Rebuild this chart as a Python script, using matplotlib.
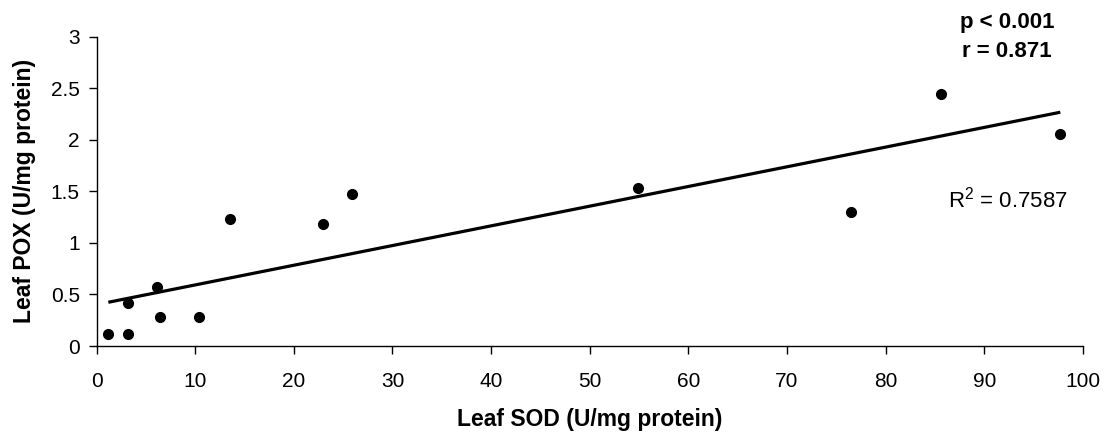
import numpy as np
import matplotlib
matplotlib.use("Agg")
import matplotlib.pyplot as plt

plt.rcParams['font.family'] = ['Liberation Sans', 'DejaVu Sans']
plt.rcParams['mathtext.fontset'] = 'custom'
plt.rcParams['mathtext.rm'] = 'Liberation Sans'
plt.rcParams['mathtext.it'] = 'Liberation Sans:italic'
plt.rcParams['mathtext.bf'] = 'Liberation Sans:bold'

sod = [1.2, 3.15, 3.15, 6.1, 6.45, 10.4, 13.55, 22.95, 25.9, 54.85, 76.45, 85.65, 97.7]
pox = [0.12, 0.12, 0.42, 0.57, 0.28, 0.28, 1.23, 1.18, 1.47, 1.53, 1.30, 2.44, 2.06]
x_ticks = list(range(0, 101, 10))
y_ticks = [0, 0.5, 1, 1.5, 2, 2.5, 3]
y_ticklabels = ['0', '0.5', '1', '1.5', '2', '2.5', '3']

W, H = 1112, 438
fig = plt.figure(figsize=(W / 100, H / 100), dpi=100)
ax = fig.add_axes([96.5 / W, (H - 346) / H, (1083 - 96.5) / W, (346 - 36.7) / H])

x = np.array(sod)
y = np.array(pox)
slope, intercept = np.polyfit(x, y, 1)
xl = np.array([x.min(), x.max()])
ax.plot(xl, slope * xl + intercept, color='black', lw=2.3, solid_capstyle='butt')
ax.plot(x, y, 'o', color='black', ms=7, zorder=3)

ax.set_xlim(0, 100)
ax.set_ylim(0, 3)
ax.set_xticks(x_ticks)
ax.set_yticks(y_ticks)
ax.set_yticklabels(y_ticklabels)
for s in ['top', 'right']:
    ax.spines[s].set_visible(False)
for s in ['left', 'bottom']:
    ax.spines[s].set_linewidth(1.0)
ax.tick_params(direction='out', length=6, width=1, labelsize=15)
ax.tick_params(axis='x', pad=13)
ax.tick_params(axis='y', pad=6)

ax.set_xlabel('Leaf SOD (U/mg protein)', fontsize=16.5, fontweight='bold')
ax.set_ylabel('Leaf POX (U/mg protein)', fontsize=16.5, fontweight='bold')
ax.xaxis.set_label_coords(0.5, -0.20)
ax.yaxis.set_label_coords(-0.061, 0.5)

ax.text(92.3, 3.084, 'p < 0.001', ha='center', va='baseline',
        fontsize=16, fontweight='bold', clip_on=False)
ax.text(92.3, 2.80, 'r = 0.871', ha='center', va='baseline',
        fontsize=16, fontweight='bold', clip_on=False)
ax.text(86.3, 1.34, r'R$^2$ = 0.7587', fontsize=16, ha='left', va='baseline')

fig.savefig('out.png', dpi=100)
